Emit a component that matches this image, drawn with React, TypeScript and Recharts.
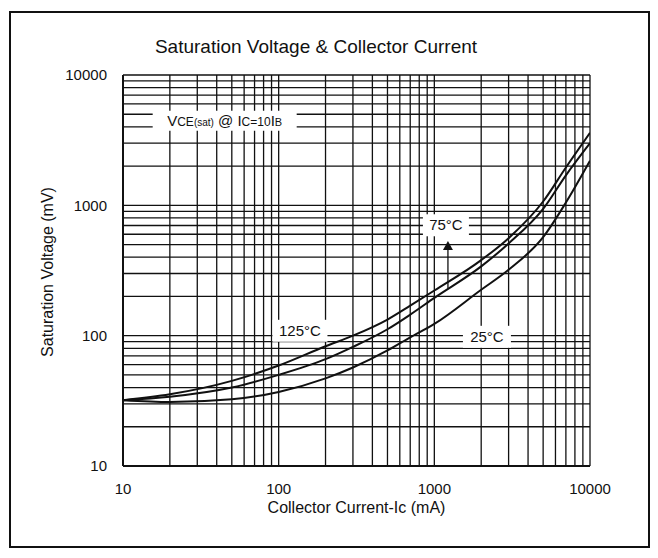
import { Label, Line, LineChart, ReferenceDot, ReferenceLine, XAxis, YAxis } from 'recharts';

// collector current (mA) and saturation voltage (mV)
const currentMa = [10, 20, 50, 100, 200, 300, 500, 700, 1000, 2000, 3000, 5000, 7000, 10000];
const vce125 = [32, 35.5, 45, 59, 83, 100, 133, 170, 222, 380, 560, 1070, 1950, 3600];
const vce75 = [32, 34, 40, 50, 66, 82, 112, 145, 195, 340, 510, 940, 1700, 3000];
const vce25 = [32, 31, 32.5, 37, 47, 57, 77, 97, 123, 225, 320, 570, 1050, 2200];

const decadeTicks = [10, 100, 1000, 10000];
const gridValues = [
  10, 20, 30, 40, 50, 60, 70, 80, 90,
  100, 200, 300, 400, 500, 600, 700, 800, 900,
  1000, 2000, 3000, 4000, 5000, 6000, 7000, 8000, 9000,
  10000,
];

const data = currentMa.map((ic, i) => ({
  ic,
  t125: vce125[i],
  t75: vce75[i],
  t25: vce25[i],
}));

const FONT = '"Liberation Sans", Arial, sans-serif';

function TagLabel(props: any) {
  const { viewBox, text, w } = props;
  const cx = viewBox.x + viewBox.width / 2;
  const cy = viewBox.y + viewBox.height / 2;
  return (
    <g>
      <rect x={cx - w / 2} y={cy - 11} width={w} height={22} fill="#fff" />
      <text x={cx} y={cy + 5} textAnchor="middle" fontSize={15} fontFamily={FONT} fill="#111">
        {text}
      </text>
    </g>
  );
}

function ConditionLabel(props: any) {
  const { viewBox } = props;
  const cx = viewBox.x + viewBox.width / 2;
  const cy = viewBox.y + viewBox.height / 2;
  return (
    <g>
      <rect x={cx - 72} y={cy - 10} width={144} height={20} fill="#fff" />
      <text x={cx} y={cy + 5} textAnchor="middle" fontFamily={FONT} fill="#111" fontSize={15}>
        <tspan>V</tspan>
        <tspan fontSize={12}>CE</tspan>
        <tspan fontSize={10}>(sat)</tspan>
        <tspan> @ I</tspan>
        <tspan fontSize={12}>C=10</tspan>
        <tspan>I</tspan>
        <tspan fontSize={11}>B</tspan>
      </text>
    </g>
  );
}

function ArrowHead(props: any) {
  const { cx, cy } = props;
  return <path d={`M${cx},${cy - 5} L${cx + 5},${cy + 4} L${cx - 5},${cy + 4} Z`} fill="#111" />;
}

export default function App() {
  return (
    <div style={{ position: 'relative', width: 642, height: 542, fontFamily: FONT }}>
      <div
        style={{
          position: 'absolute',
          left: 1,
          top: 3,
          width: 641,
          height: 537,
          boxSizing: 'border-box',
          border: '2px solid #111',
        }}
      />
      <div
        style={{
          position: 'absolute',
          left: 0,
          top: 28,
          width: 616,
          textAlign: 'center',
          fontSize: 19,
          color: '#111',
        }}
      >
        Saturation Voltage &amp; Collector Current
      </div>
      <div
        style={{
          position: 'absolute',
          left: 40 - 100,
          top: 264 - 9,
          width: 200,
          textAlign: 'center',
          fontSize: 16,
          color: '#111',
          transform: 'rotate(-90deg)',
          lineHeight: '18px',
        }}
      >
        Saturation Voltage (mV)
      </div>
      <div style={{ position: 'absolute', left: 0, top: 0 }}>
        <LineChart width={642} height={542} data={data} margin={{ top: 67, right: 60, bottom: 29, left: 0 }}>
          {gridValues.map((v) => (
            <ReferenceLine key={`v${v}`} x={v} stroke="#111" strokeWidth={1.3} />
          ))}
          {gridValues.map((v) => (
            <ReferenceLine key={`h${v}`} y={v} stroke="#111" strokeWidth={1.3} />
          ))}
          <XAxis
            dataKey="ic"
            type="number"
            scale="log"
            domain={[10, 10000]}
            ticks={decadeTicks}
            interval={0}
            allowDataOverflow
            height={55}
            tickSize={0}
            tickMargin={17}
            axisLine={{ stroke: '#111', strokeWidth: 2 }}
            tick={{ fill: '#111', fontSize: 15, fontFamily: FONT }}
          >
            <Label
              value="Collector Current-Ic (mA)"
              position="insideBottom"
              offset={8}
              style={{ fill: '#111', fontSize: 16, fontFamily: FONT }}
            />
          </XAxis>
          <YAxis
            type="number"
            scale="log"
            domain={[10, 10000]}
            ticks={decadeTicks}
            interval={0}
            allowDataOverflow
            width={115}
            tickSize={0}
            tickMargin={16}
            axisLine={{ stroke: '#111', strokeWidth: 2 }}
            tick={{ fill: '#111', fontSize: 15, fontFamily: FONT }}
          />
          <Line type="monotone" dataKey="t125" stroke="#111" strokeWidth={2} dot={false} isAnimationActive={false} />
          <Line type="monotone" dataKey="t75" stroke="#111" strokeWidth={2} dot={false} isAnimationActive={false} />
          <Line type="monotone" dataKey="t25" stroke="#111" strokeWidth={2} dot={false} isAnimationActive={false} />
          <ReferenceLine
            segment={[
              { x: 1223, y: 230 },
              { x: 1223, y: 487 },
            ]}
            stroke="#111"
            strokeWidth={1.3}
          />
          <ReferenceDot x={1223} y={487} r={5} shape={<ArrowHead />} />
          <ReferenceDot x={45} y={4456} r={1} fill="none" stroke="none" label={<ConditionLabel />} />
          <ReferenceDot x={137} y={109} r={1} fill="none" stroke="none" label={<TagLabel text="125°C" w={55} />} />
          <ReferenceDot x={1187} y={703} r={1} fill="none" stroke="none" label={<TagLabel text="75°C" w={46} />} />
          <ReferenceDot x={2177} y={98} r={1} fill="none" stroke="none" label={<TagLabel text="25°C" w={48} />} />
        </LineChart>
      </div>
    </div>
  );
}
